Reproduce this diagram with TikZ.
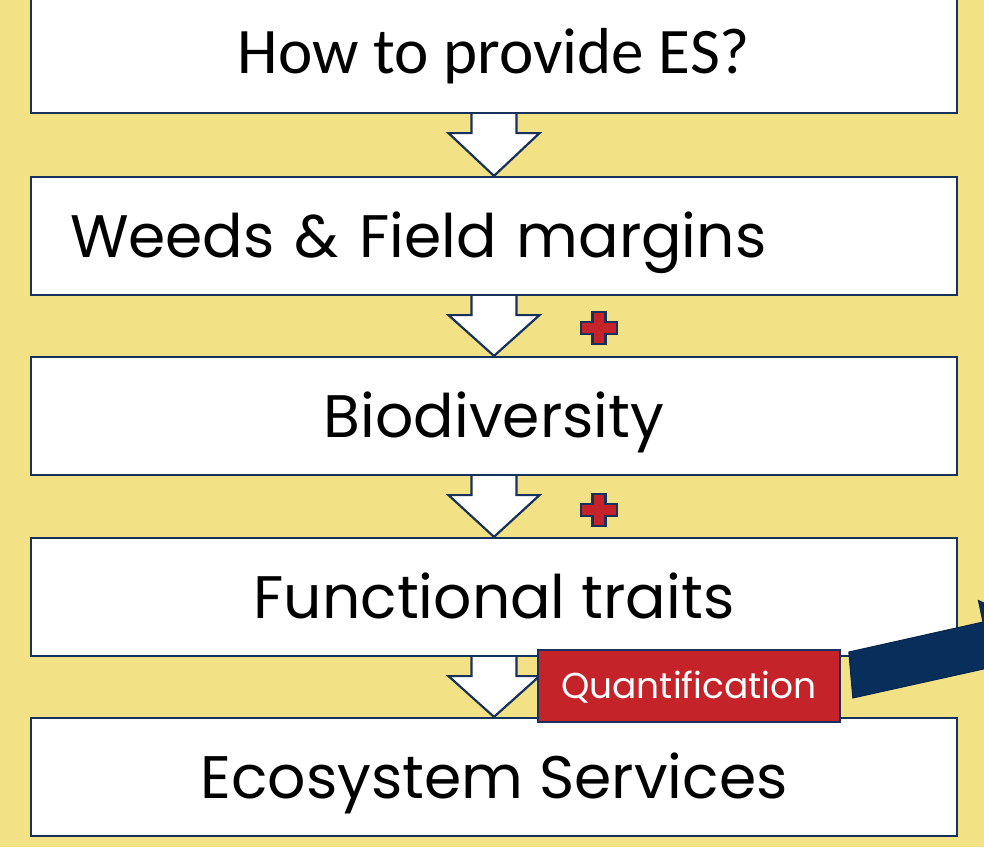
\documentclass[tikz,border=0pt]{standalone}
\usepackage{fontspec}
\setmainfont{Poppins}
\newfontfamily\calibrifont{Carlito}
\usetikzlibrary{calc}
\definecolor{bgyellow}{HTML}{F3E285}
\definecolor{navy}{HTML}{16325C}
\definecolor{bandblue}{HTML}{082E5C}
\definecolor{qred}{HTML}{C5232A}
\tikzset{
  flowbox/.style={draw=navy, line width=2.2pt, fill=white, minimum width=926pt, minimum height=118pt, inner sep=0pt, text height=42pt, text depth=0pt, font=\fontsize{60}{66}\selectfont},
  flowarrow/.style={draw=navy, line width=2.2pt, fill=white, line join=miter},
  plusmark/.style={draw=navy, line width=2.4pt, fill=qred},
  qbox/.style={draw=navy, line width=1.6pt, fill=qred, text=white, minimum width=302pt, minimum height=72pt, inner sep=0pt, text height=25pt, text depth=0pt, font=\fontsize{36}{40}\selectfont},
  bandarrow/.style={draw=bandblue!80!black, line width=1pt, fill=bandblue}
}
\newcommand{\flowdown}[2]{%
  \path[flowarrow] ($(#1.south)+(-22.5,0)$) -- ++(0,19) -- ++(-23,0) -- (#2.north)
    -- ($(#1.south)+(45.5,19)$) -- ++(-23,0) -- ($(#1.south)+(22.5,0)$);}
\newcommand{\plussign}[1]{%
  \path[plusmark,shift={#1}] (-6.5,-16) -- (6.5,-16) -- (6.5,-6) -- (18,-6) -- (18,6)
    -- (6.5,6) -- (6.5,16) -- (-6.5,16) -- (-6.5,6) -- (-18,6) -- (-18,-6) -- (-6.5,-6) -- cycle;}
\begin{document}
\begin{tikzpicture}[x=1pt,y=-1pt]
  \useasboundingbox (0,0) rectangle (984,847);
  \clip (0,0) rectangle (984,847);
  \fill[bgyellow] (0,0) rectangle (984,847);

  \node[flowbox, minimum height=123pt, text height=43pt, font=\calibrifont\fontsize{65}{72}\selectfont] (b1) at (494,51.5) {How to provide ES?};
  \node[flowbox, text width=848pt, align=left] (b2) at (494,236) {Weeds \& Field margins};
  \node[flowbox] (b3) at (494,416) {Biodiversity};
  \node[flowbox] (b4) at (494,597) {Functional traits};
  \node[flowbox] (b5) at (494,777) {Ecosystem Services};

  \flowdown{b1}{b2}
  \flowdown{b2}{b3}
  \flowdown{b3}{b4}
  \flowdown{b4}{b5}

  \plussign{(599,328)}
  \plussign{(599,510)}

  \node[qbox] (q) at (689,686) {Quantification};

  \coordinate (bandtl) at ($(q.east)+(8,-34)$);
  \coordinate (bandbl) at ($(q.east)+(12,12)$);
  \path[bandarrow] (bandtl) -- (983,622) -- (978.4,600.5) -- (1046,632) -- (997,688) -- (992.6,667) -- (bandbl) -- cycle;
\end{tikzpicture}
\end{document}
